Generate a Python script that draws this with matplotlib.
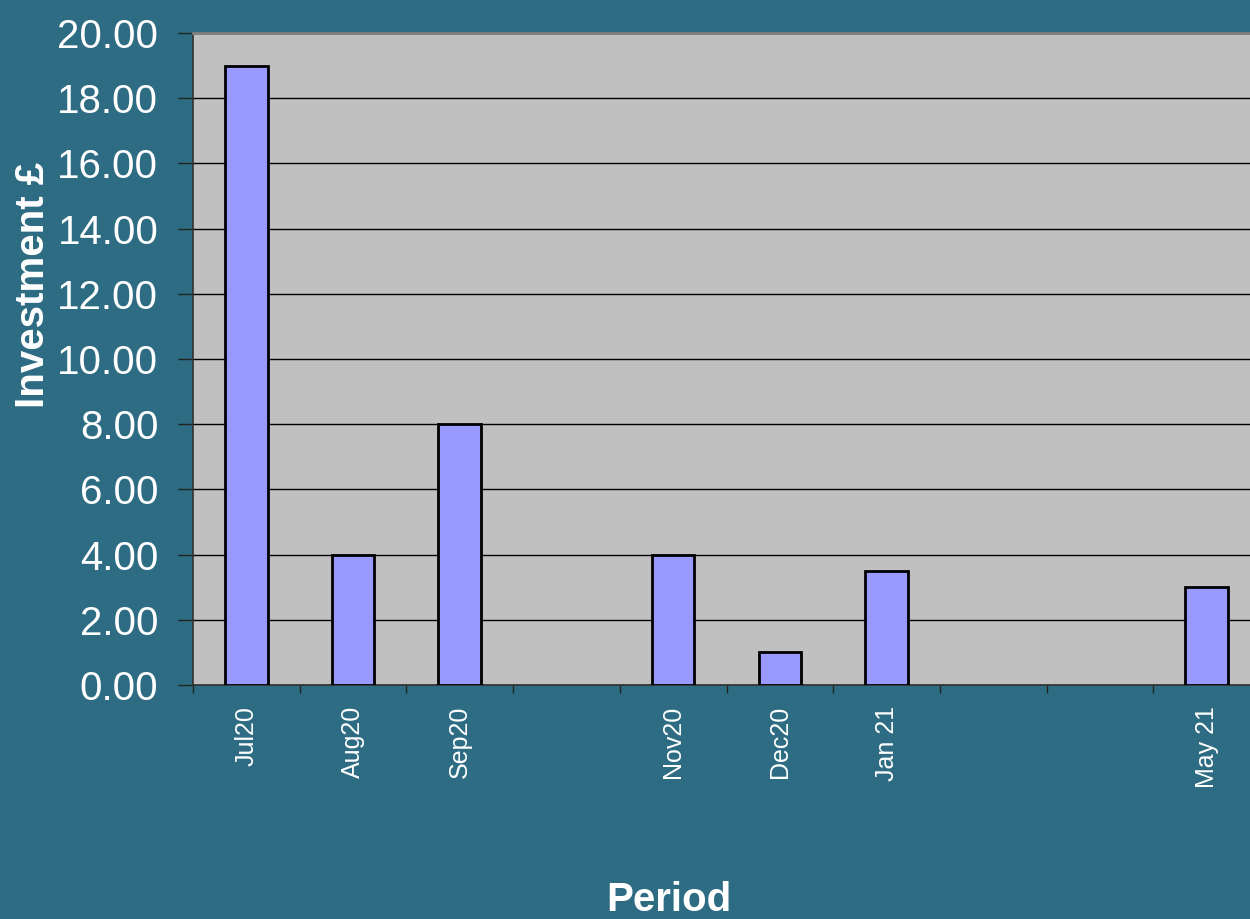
import numpy as np
import matplotlib
matplotlib.use('Agg')
import matplotlib.pyplot as plt
from matplotlib.ticker import MultipleLocator, FormatStrFormatter

# ── Data ────────────────────────────────────────────────
periods = ['Jul20', 'Aug20', 'Sep20', '', 'Nov20', 'Dec20', 'Jan 21', '', '', 'May 21']
investment = [19.0, 4.0, 8.0, np.nan, 4.0, 1.0, 3.5, np.nan, np.nan, 3.0]

BG = '#2D6C83'
PLOT_BG = '#C0C0C0'
BAR = '#9999FF'

plt.rcParams['font.family'] = ['Liberation Sans', 'DejaVu Sans']

fig = plt.figure(figsize=(12.5, 9.19), dpi=100, facecolor=BG)
ax = fig.add_axes([193/1250, 1 - 685/919, (1260 - 193)/1250, (685 - 33)/919])
ax.set_facecolor(PLOT_BG)

x = np.arange(len(periods))
ax.bar(x, investment, width=0.4, color=BAR, edgecolor='black', linewidth=2, zorder=3)

ax.set_xlim(-0.5, len(periods) - 0.5)
ax.set_ylim(0, 20)
ax.yaxis.set_major_locator(MultipleLocator(2))
ax.yaxis.set_major_formatter(FormatStrFormatter('%.2f'))
ax.grid(axis='y', color='black', linewidth=1, zorder=1)

ax.set_xticks(x)
ax.set_xticklabels(periods, rotation=90, fontsize=18, color='white')
ax.set_xticks(np.arange(-0.5, len(periods)), minor=True)
ax.tick_params(axis='x', which='major', length=0, pad=15)
ax.tick_params(axis='x', which='minor', length=6, color='#222222', width=1)
ax.tick_params(axis='y', length=11, color='#222222', width=1, labelsize=29,
               labelcolor='white', pad=14)

for side in ['left', 'bottom']:
    ax.spines[side].set_color('#333333')
    ax.spines[side].set_linewidth(1.2)
ax.spines['top'].set_color('#808080')
ax.spines['top'].set_linewidth(2)
ax.spines['right'].set_visible(False)

fig.text(33/1250, 1 - 285/919, 'Investment £', rotation=90, ha='center', va='center',
         fontsize=29, fontweight='bold', color='white')
fig.text(669/1250, 1 - 900/919, 'Period', ha='center', va='center',
         fontsize=29, fontweight='bold', color='white')

fig.savefig('out.png', dpi=100, facecolor=BG)
